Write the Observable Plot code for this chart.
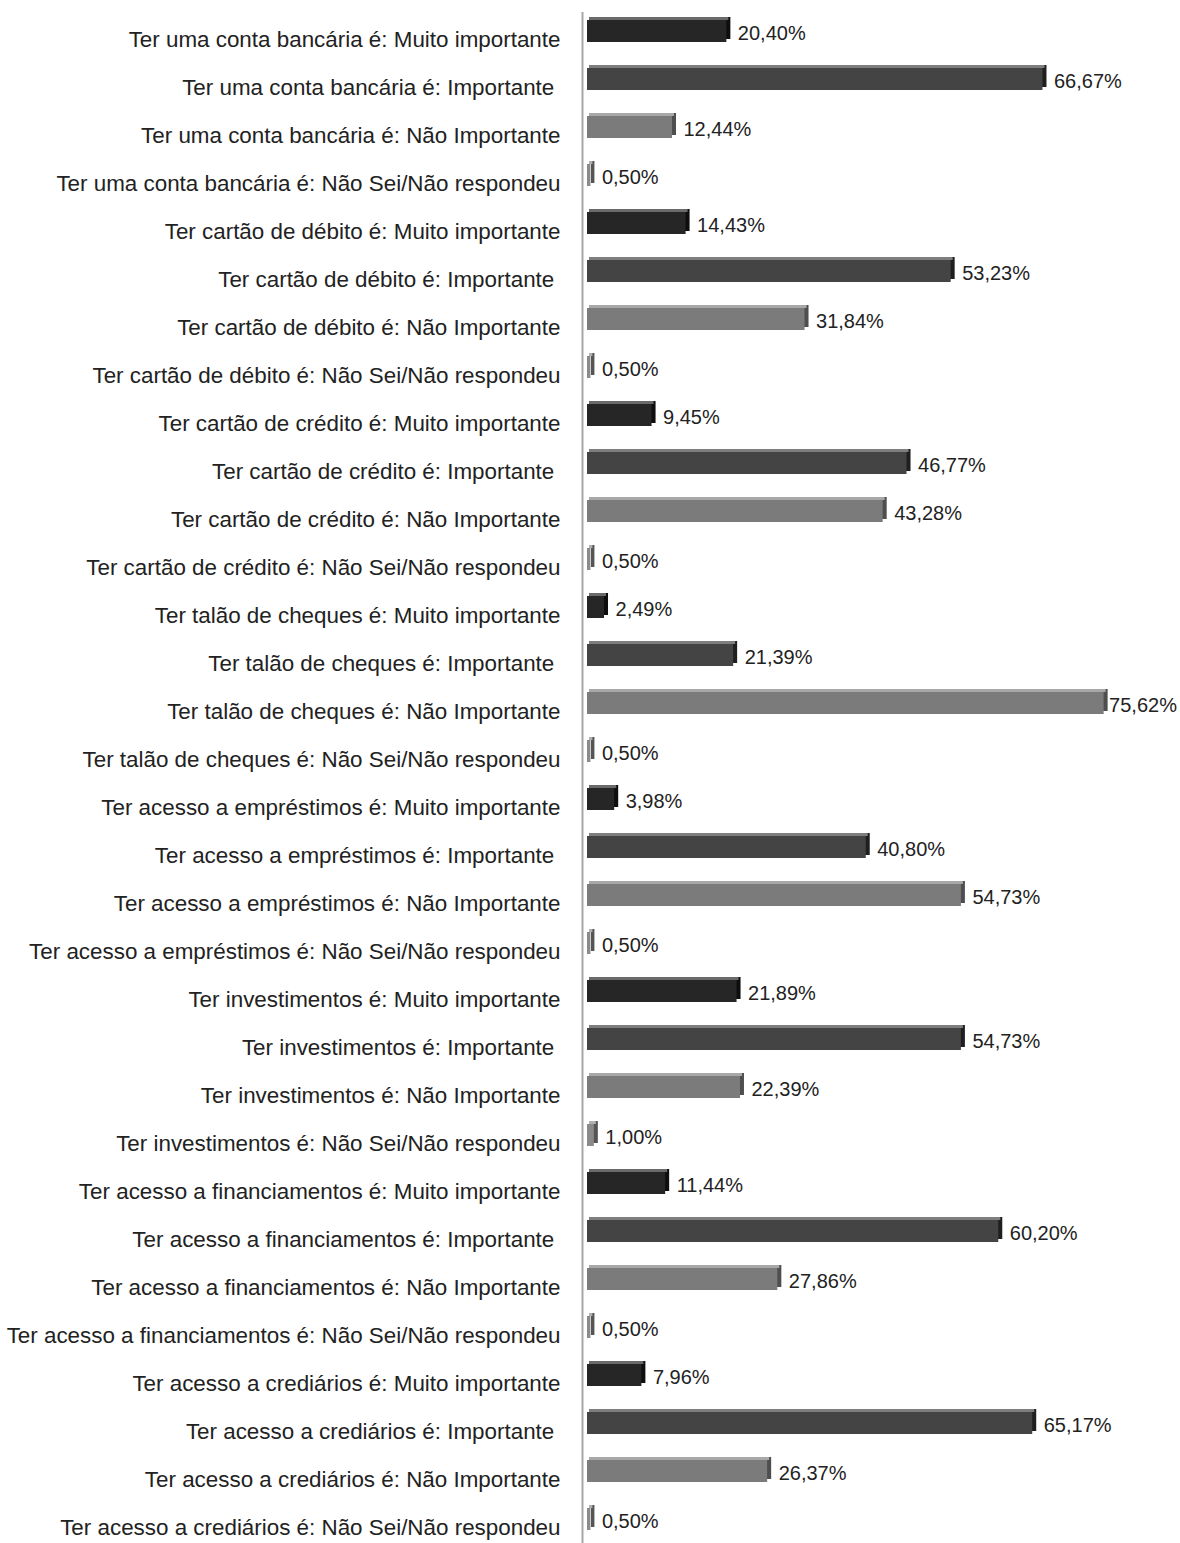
<!DOCTYPE html>
<html>
<head>
<meta charset="utf-8">
<script src="https://cdn.jsdelivr.net/npm/d3@7"></script>
<script src="https://cdn.jsdelivr.net/npm/@observablehq/plot@0.6"></script>
<style>
  html, body { margin: 0; padding: 0; background: #fff; }
  #chart { width: 1180px; height: 1543px; }
</style>
</head>
<body>
<div id="chart"></div>
<script>
const items = [
  "Ter uma conta bancária",
  "Ter cartão de débito",
  "Ter cartão de crédito",
  "Ter talão de cheques",
  "Ter acesso a empréstimos",
  "Ter investimentos",
  "Ter acesso a financiamentos",
  "Ter acesso a crediários"
];
const categories = ["Muito importante", "Importante", "Não Importante", "Não Sei/Não respondeu"];
const values = [
  [20.40, 66.67, 12.44, 0.50],
  [14.43, 53.23, 31.84, 0.50],
  [9.45, 46.77, 43.28, 0.50],
  [2.49, 21.39, 75.62, 0.50],
  [3.98, 40.80, 54.73, 0.50],
  [21.89, 54.73, 22.39, 1.00],
  [11.44, 60.20, 27.86, 0.50],
  [7.96, 65.17, 26.37, 0.50]
];
const mainColors = ["#262626", "#444444", "#7b7b7b", "#8a8a8a"];
const topColors = ["#6a6a6a", "#7e7e7e", "#a8a8a8", "#b0b0b0"];
const sideColors = ["#0e0e0e", "#1f1f1f", "#4e4e4e", "#555555"];

const data = [];
items.forEach((it, i) => {
  categories.forEach((c, j) => {
    const label = `${it} é: ${c}` + (c === "Importante" ? "\u00a0" : "");
    data.push({label, cat: c, value: values[i][j]});
  });
});
const order = data.map(d => d.label);
const fmt = v => v.toFixed(2).replace(".", ",") + "%";

const chart = Plot.plot({
  width: 1180,
  height: 1543,
  marginLeft: 587,
  marginRight: 0,
  marginTop: 7,
  marginBottom: 0,
  style: {fontFamily: "'Liberation Sans', Arial, sans-serif", background: "#fff"},
  x: {domain: [0, 86.8], axis: null},
  y: {domain: order, padding: 0, label: null},
  color: {domain: categories, range: mainColors},
  marks: [
    Plot.barX(data, {y: "label", x: "value", fill: d => sideColors[categories.indexOf(d.cat)], insetTop: 13, insetBottom: 13, dx: 4, dy: -3}),
    Plot.barX(data, {y: "label", x: "value", fill: d => topColors[categories.indexOf(d.cat)], insetTop: 13, insetBottom: 32, dx: 2, dy: -3}),
    Plot.barX(data, {y: "label", x: "value", fill: "cat", insetTop: 13, insetBottom: 13}),
    Plot.text(data.filter(d => d.value <= 70), {y: "label", x: "value", text: d => fmt(d.value), textAnchor: "start", dx: 11, dy: 2, fontSize: 20, fill: "#222"}),
    Plot.text(data.filter(d => d.value > 70), {y: "label", x: "value", text: d => fmt(d.value), textAnchor: "start", dx: 5, dy: 2, fontSize: 20, fill: "#222"}),
    Plot.ruleX([0], {dx: -5, stroke: "#a8a8a8", strokeWidth: 2, insetTop: 5}),
    Plot.axisY({tickSize: 0, tickPadding: 27, fontSize: 22.4, dy: 8, fill: "#222", label: null})
  ]
});
document.getElementById("chart").appendChild(chart);
</script>
</body>
</html>
